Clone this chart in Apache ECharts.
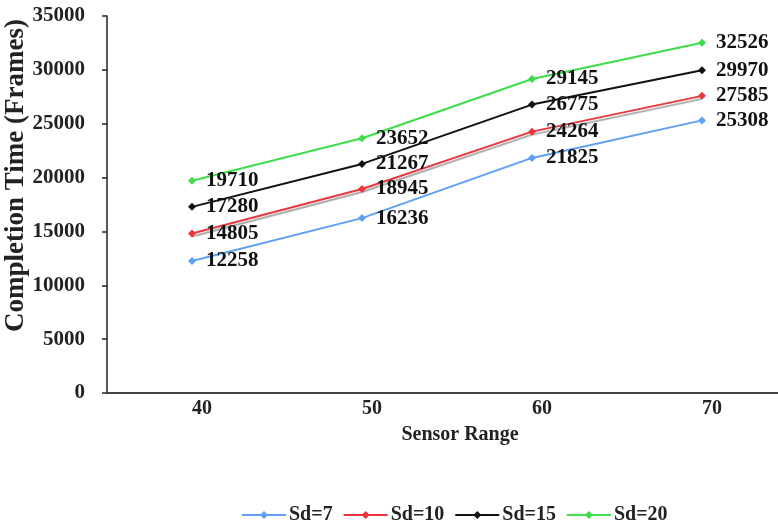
<!DOCTYPE html>
<html>
<head>
<meta charset="utf-8">
<script src="https://cdn.jsdelivr.net/npm/echarts@6/dist/echarts.min.js"></script>
<style>
  html, body { margin: 0; padding: 0; background: #fff; }
  #chart { width: 778px; height: 525px; }
</style>
</head>
<body>
<div id="chart"></div>
<script>
// Sensor range categories and completion times (frames) per Sd setting
const sensorRanges = ['40', '50', '60', '70'];
const sd7  = [12258, 16236, 21825, 25308];
const sd10 = [14805, 18945, 24264, 27585];
const sd15 = [17280, 21267, 26775, 29970];
const sd20 = [19710, 23652, 29145, 32526];
const seriesNames = ['Sd=7', 'Sd=10', 'Sd=15', 'Sd=20'];
const seriesColors = ['#5fa0f7', '#e8383d', '#111111', '#3fdc4a'];

const FONT = 'Liberation Serif';

function makeSeries(name, data, color, extraLine) {
  return {
    name: name,
    type: 'line',
    data: data,
    symbol: 'diamond',
    symbolSize: 8,
    itemStyle: { color: color },
    lineStyle: Object.assign({ color: color, width: 2 }, extraLine || {}),
    label: {
      show: true,
      position: 'right',
      distance: 10,
      color: '#111',
      fontFamily: FONT,
      fontWeight: 'bold',
      fontSize: 21,
      formatter: p => String(p.value)
    },
    emphasis: { disabled: true },
    animation: false
  };
}

const chart = echarts.init(document.getElementById('chart'), null, { renderer: 'canvas' });
chart.setOption({
  backgroundColor: '#fff',
  animation: false,
  grid: { left: 107, right: -9, top: 16, bottom: 132, containLabel: false, outerBoundsMode: 'none' },
  legend: {
    data: seriesNames,
    left: 236,
    top: 500,
    itemWidth: 44,
    itemHeight: 10,
    itemGap: 10,
    textStyle: { fontFamily: FONT, fontWeight: 'bold', fontSize: 20, color: '#222', padding: [0, 0, 0, -2] }
  },
  xAxis: {
    type: 'category',
    data: sensorRanges,
    boundaryGap: true,
    name: 'Sensor Range',
    nameLocation: 'middle',
    nameGap: 32,
    nameMoveOverlap: false,
    nameTextStyle: { fontFamily: FONT, fontWeight: 'bold', fontSize: 20, color: '#222', padding: [0, 0, 0, 26] },
    axisLine: { lineStyle: { color: '#444', width: 2 } },
    axisTick: { show: false },
    axisLabel: { margin: 6, fontFamily: FONT, fontWeight: 'bold', fontSize: 20, color: '#222', padding: [0, 0, 0, 20] },
    splitLine: { show: false }
  },
  yAxis: {
    type: 'value',
    min: 0,
    max: 35000,
    interval: 5000,
    name: 'Completion Time (Frames)',
    nameLocation: 'middle',
    nameGap: 77,
    nameRotate: 90,
    nameMoveOverlap: false,
    nameTextStyle: { fontFamily: FONT, fontWeight: 'bold', fontSize: 27, color: '#222', padding: [0, 0, 0, 58] },
    axisLine: { show: true, lineStyle: { color: '#222', width: 1.5 } },
    axisTick: { show: true, inside: false, length: 5, lineStyle: { color: '#222', width: 1.5 } },
    axisLabel: { margin: 22, fontFamily: FONT, fontWeight: 'bold', fontSize: 21, color: '#222', formatter: v => String(v) },
    splitLine: { show: false }
  },
  series: [
    makeSeries(seriesNames[0], sd7, seriesColors[0]),
    makeSeries(seriesNames[1], sd10, seriesColors[1], { shadowColor: 'rgba(0,0,0,0.35)', shadowOffsetY: 3, shadowBlur: 1 }),
    makeSeries(seriesNames[2], sd15, seriesColors[2]),
    makeSeries(seriesNames[3], sd20, seriesColors[3])
  ]
});
</script>
</body>
</html>
